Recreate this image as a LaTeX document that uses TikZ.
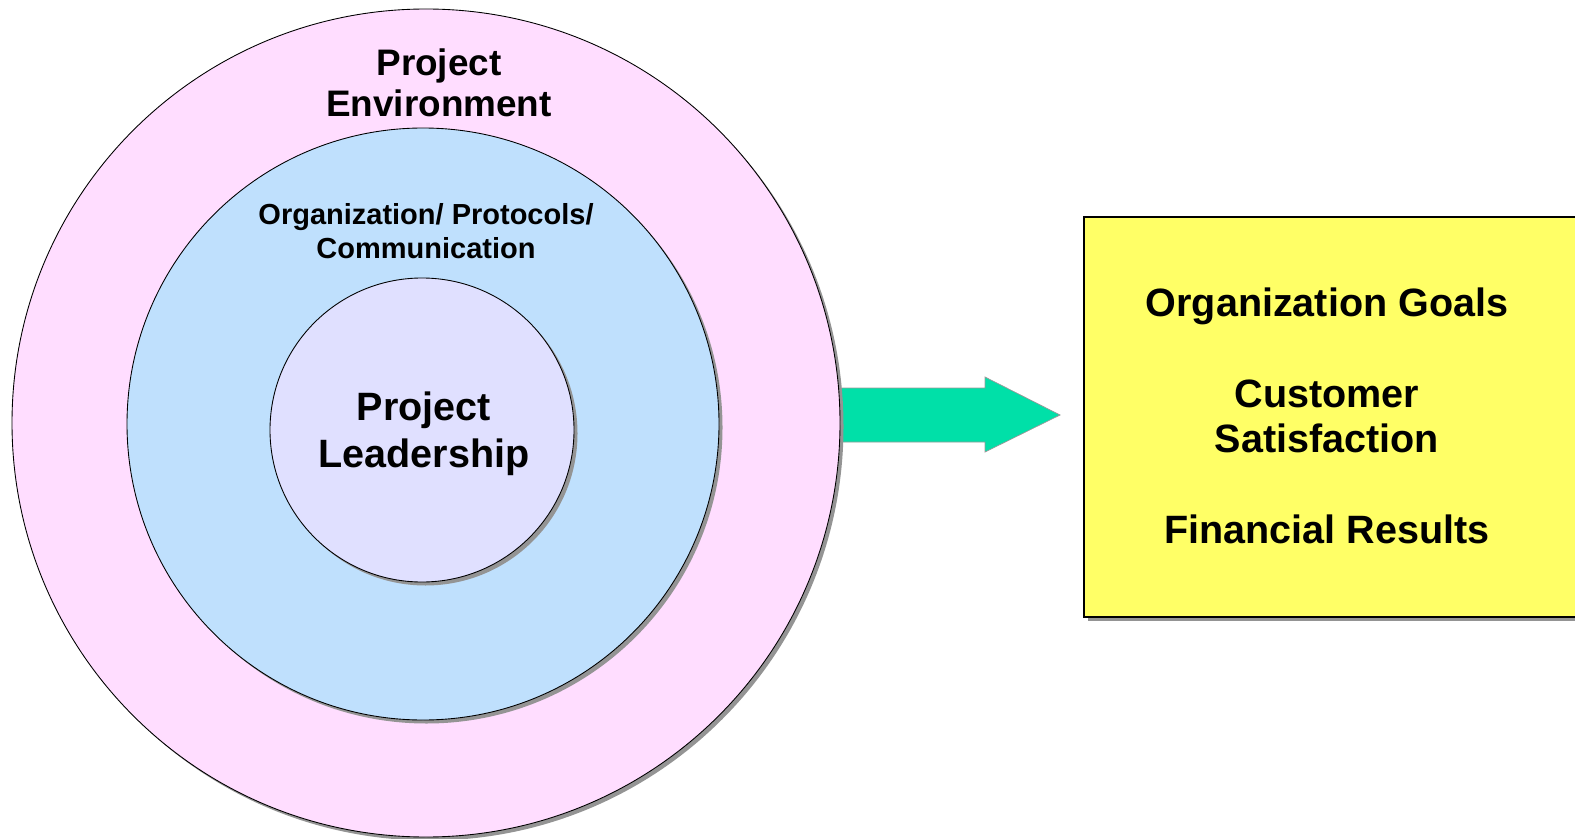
\documentclass[tikz,border=0pt]{standalone}
\usepackage{fontspec}
\setmainfont{Liberation Sans}
\usetikzlibrary{shadows}

\definecolor{envpink}{HTML}{FFDDFF}
\definecolor{orgblue}{HTML}{BFE0FD}
\definecolor{leadlilac}{HTML}{E0E0FF}
\definecolor{arrowgreen}{HTML}{00E0A8}
\definecolor{goalyellow}{HTML}{FFFF66}

\begin{document}
\begin{tikzpicture}[font=\bfseries,
    shade/.style={drop shadow={shadow xshift=.07cm,shadow yshift=-.07cm,fill=black!42,opacity=1}},
    ring/.style={circle,draw=black,line width=.5pt,inner sep=0pt,shade}]
  \clip (0,0) rectangle (31.5,16.76);
  % fat arrow, its tail hidden under the outer ring
  \fill[arrowgreen,draw=black!40,line width=.4pt]
    (16.4,9.0)--(19.7,9.0)--(19.7,9.22)--(21.2,8.46)--(19.7,7.72)--(19.7,7.92)--(16.4,7.92)--cycle;
  % the three rings
  \node[ring,fill=envpink,minimum size=16.56cm] (env) at (8.52,8.30) {};
  \node[ring,fill=orgblue,minimum size=11.84cm] (org) at (8.46,8.28) {};
  \node[ring,fill=leadlilac,minimum size=6.08cm] (lead) at (8.44,8.16) {};
  \node[align=center,font=\bfseries\fontsize{21}{23.6}\selectfont] (envlabel) at (8.78,15.1)
    {Project\\Environment};
  \node[align=center,font=\bfseries\fontsize{16.5}{19.3}\selectfont] (orglabel) at (8.52,12.14)
    {Organization/ Protocols/\\Communication};
  \node[align=center,font=\bfseries\fontsize{22.5}{26.7}\selectfont] (leadlabel) at (8.48,8.09)
    {Project\\Leadership};
  % results box, running off the right edge
  \node[draw=black,line width=1.1pt,fill=goalyellow,shade,minimum width=9.96cm,minimum height=8cm]
    (goalbox) at (26.66,8.42) {};
  \node[align=center,font=\bfseries\fontsize{22.5}{25.6}\selectfont] (goals) at (26.54,8.45)
    {Organization Goals\\[26.2pt]Customer\\Satisfaction\\[26.2pt]Financial Results};
\end{tikzpicture}
\end{document}
